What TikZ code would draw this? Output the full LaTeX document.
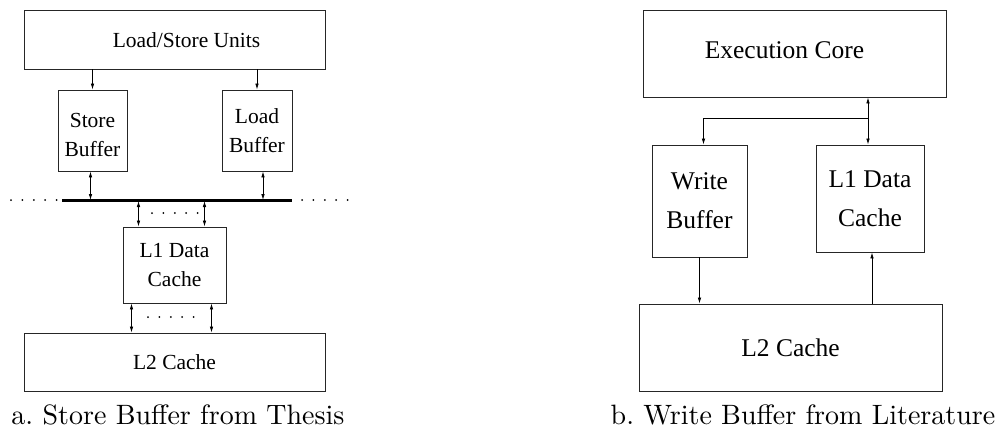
\documentclass[tikz,border=0pt]{standalone}
\usepackage{fontspec}
\newfontfamily\figfont{Liberation Serif}
\newfontfamily\capfont{lmroman10-regular.otf}
\usepackage{tikz}
\usetikzlibrary{calc, positioning, arrows.meta}
\tikzset{
    box/.style={rectangle, draw=black!85, line width=0.9pt, inner sep=0pt, align=center},
    smallbox/.style={box, font=\figfont\fontsize{21.5}{29}\selectfont},
    bigbox/.style={box, font=\figfont\fontsize{25.5}{39}\selectfont},
    arrow/.style={-{Latex[length=6pt, width=3.6pt]}, line width=0.8pt},
    biarrow/.style={{Latex[length=6pt, width=3.6pt]}-{Latex[length=6pt, width=3.6pt]}, line width=0.8pt},
    bus/.style={line width=3pt},
    dotrow/.style={line width=2pt, line cap=round, dash pattern=on 0pt off 11.4pt},
    caption/.style={font=\capfont\fontsize{28}{34}\selectfont, anchor=base}
}

\begin{document}
\begin{tikzpicture}[x=1pt, y=-1pt]
    \useasboundingbox (0,0) rectangle (997,431);

    % a. Store Buffer from Thesis
    \node[smallbox, minimum width=301pt, minimum height=59pt,
          label={[smallbox, draw=none, xshift=12pt, yshift=-1pt]center:Load/Store Units}] (lsu) at (174.5,39.5) {};
    \node[smallbox, minimum width=69pt, minimum height=81pt,
          label={[smallbox, draw=none, yshift=-4pt]center:Store\\Buffer}] (sb) at (92.5,130.5) {};
    \node[smallbox, minimum width=70pt, minimum height=81pt] (lb) at (257,130.5) {Load\\Buffer};
    \node[smallbox, minimum width=103pt, minimum height=76pt] (l1a) at (174.5,265) {L1 Data\\Cache};
    \node[smallbox, minimum width=301pt, minimum height=58pt] (l2a) at (174.5,362) {L2 Cache};

    \coordinate (busL) at (62,200);
    \coordinate (busR) at (292,200);
    \draw[bus] (busL) -- (busR);
    \draw[dotrow] (11,200) -- (58,200);
    \draw[dotrow] (302,200) -- (349,200);

    \draw[arrow] (lsu.south -| sb.south) -- (sb.north);
    \draw[arrow] (lsu.south -| lb.south) -- (lb.north);
    \draw[biarrow] ($(sb.south)+(-2,0)$) -- ($(sb.south |- busL)+(-2,0)$);
    \draw[biarrow] ($(lb.south)+(6,0)$) -- ($(lb.south |- busL)+(6,0)$);

    \draw[biarrow] ($(l1a.north |- busL)+(-36,1)$) -- ($(l1a.north)+(-36,0)$);
    \draw[biarrow] ($(l1a.north |- busL)+(30,1)$) -- ($(l1a.north)+(30,0)$);
    \draw[dotrow] (152,213) -- (199,213);

    \draw[biarrow] ($(l1a.south)+(-43,0)$) -- ($(l2a.north -| l1a.south)+(-43,0)$);
    \draw[biarrow] ($(l1a.south)+(37,0)$) -- ($(l2a.north -| l1a.south)+(37,0)$);
    \draw[dotrow] (148,317) -- (195,317);

    \node[caption] (capa) at (178,424) {a.\ Store Buffer from Thesis};

    % b. Write Buffer from Literature
    \node[bigbox, minimum width=303pt, minimum height=87pt,
          label={[bigbox, draw=none, xshift=-10pt, yshift=3pt]center:Execution Core}] (core) at (794.5,53.5) {};
    \node[bigbox, minimum width=95pt, minimum height=112pt] (wb) at (699.5,201) {Write\\Buffer};
    \node[bigbox, minimum width=108pt, minimum height=107pt] (l1b) at (870,198.5) {L1 Data\\Cache};
    \node[bigbox, minimum width=303pt, minimum height=87pt] (l2b) at (790.5,347.5) {L2 Cache};

    \coordinate (jn) at (868,118);
    \draw[arrow] (jn) -- (core.south -| jn);
    \draw[arrow] (jn) -- (l1b.north -| jn);
    \draw[arrow] (jn) -| ($(wb.north)+(4,0)$);
    \draw[arrow] (wb.south) -- (l2b.north -| wb.south);
    \draw[arrow] ($(l2b.north -| l1b.south)+(2,0)$) -- ($(l1b.south)+(2,0)$);

    \node[caption] (capb) at (803,424) {b.\ Write Buffer from Literature};
\end{tikzpicture}
\end{document}
